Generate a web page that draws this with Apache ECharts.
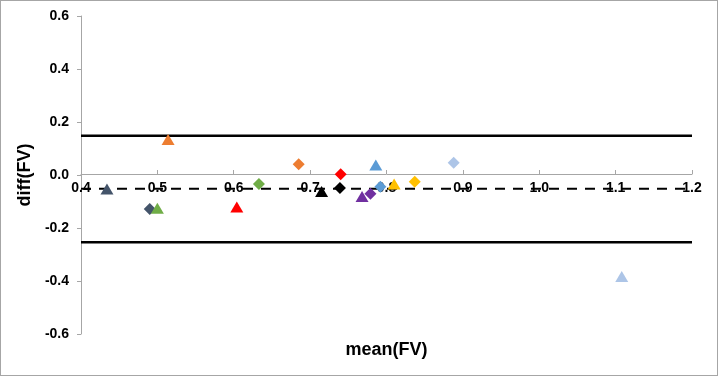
<!DOCTYPE html>
<html>
<head>
<meta charset="utf-8">
<script src="https://cdn.jsdelivr.net/npm/echarts@6/dist/echarts.min.js"></script>
<style>
  html, body { margin: 0; padding: 0; background: #fff; }
  #main { width: 718px; height: 376px; box-sizing: border-box; border: 1px solid #a6a6a6; }
</style>
</head>
<body>
<div id="main"></div>
<script>
// subjects: one colour each, triangle and diamond
var names = ['s1', 's2', 's3', 's4', 's5', 's6', 's7', 's8', 's9'];
var colors = ['#44546A', '#70AD47', '#ED7D31', '#FF0000', '#000000', '#7030A0', '#5B9BD5', '#FFC000', '#ADC5E7'];
var triMean = [0.434, 0.500, 0.514, 0.604, 0.715, 0.768, 0.786, 0.810, 1.108];
var triDiff = [-0.053, -0.125, 0.134, -0.121, -0.062, -0.081, 0.038, -0.034, -0.383];
var diaMean = [0.490, 0.633, 0.685, 0.740, 0.739, 0.779, 0.792, 0.837, 0.888];
var diaDiff = [-0.128, -0.034, 0.041, 0.003, -0.049, -0.071, -0.044, -0.025, 0.046];

// bias and limits of agreement
var upperLoA = 0.148;
var bias = -0.052;
var lowerLoA = -0.254;
var xRange = [0.4, 1.2];

var myChart = echarts.init(document.getElementById('main'));

var font = 'Liberation Sans, Arial, sans-serif';
var series = [];

function hLine(v, dashed) {
    return {
        type: 'line',
        data: [[xRange[0], v], [xRange[1], v]],
        symbol: 'none',
        silent: true,
        z: 1,
        lineStyle: { color: '#000', width: dashed ? 2 : 2.5, type: dashed ? [10, 8] : 'solid' }
    };
}
series.push(hLine(upperLoA, false));
series.push(hLine(lowerLoA, false));
series.push(hLine(bias, true));

for (var i = 0; i < names.length; i++) {
    series.push({
        name: names[i] + ' tri',
        type: 'scatter',
        symbol: 'triangle',
        symbolSize: [13, 11],
        itemStyle: { color: colors[i], opacity: 1 },
        z: 3,
        data: [[triMean[i], triDiff[i]]]
    });
    series.push({
        name: names[i] + ' dia',
        type: 'scatter',
        symbol: 'diamond',
        symbolSize: 12,
        itemStyle: { color: colors[i], opacity: 1 },
        z: 3,
        data: [[diaMean[i], diaDiff[i]]]
    });
}

option = {
    backgroundColor: '#fff',
    animation: false,
    grid: { left: 80, right: 25, top: 15, bottom: 41, containLabel: false, outerBoundsMode: 'none' },
    xAxis: {
        type: 'value',
        min: 0.4,
        max: 1.2,
        interval: 0.1,
        position: 'bottom',
        offset: -160,
        z: 2,
        name: 'mean(FV)',
        nameLocation: 'middle',
        nameGap: 167,
        nameTextStyle: { fontFamily: font, fontWeight: 'bold', fontSize: 18, color: '#000' },
        axisLine: { onZero: false, lineStyle: { color: '#A6A6A6', width: 1 } },
        axisTick: { show: true, inside: true, length: 4, lineStyle: { color: '#A6A6A6' } },
        axisLabel: {
            margin: 7,
            fontFamily: font, fontWeight: 'bold', fontSize: 14, color: '#000',
            formatter: function (v) { return v.toFixed(1); }
        },
        splitLine: { show: false }
    },
    yAxis: {
        type: 'value',
        min: -0.6,
        max: 0.6,
        interval: 0.2,
        name: 'diff(FV)',
        nameLocation: 'middle',
        nameGap: 45,
        nameTextStyle: { fontFamily: font, fontWeight: 'bold', fontSize: 18, color: '#000' },
        axisLine: { show: true, onZero: false, lineStyle: { color: '#A6A6A6', width: 1 } },
        axisTick: { show: true, length: 4, lineStyle: { color: '#A6A6A6' } },
        axisLabel: {
            margin: 12,
            fontFamily: font, fontWeight: 'bold', fontSize: 14, color: '#000',
            formatter: function (v) { return v.toFixed(1); }
        },
        splitLine: { show: false }
    },
    series: series
};

myChart.setOption(option);
</script>
</body>
</html>
